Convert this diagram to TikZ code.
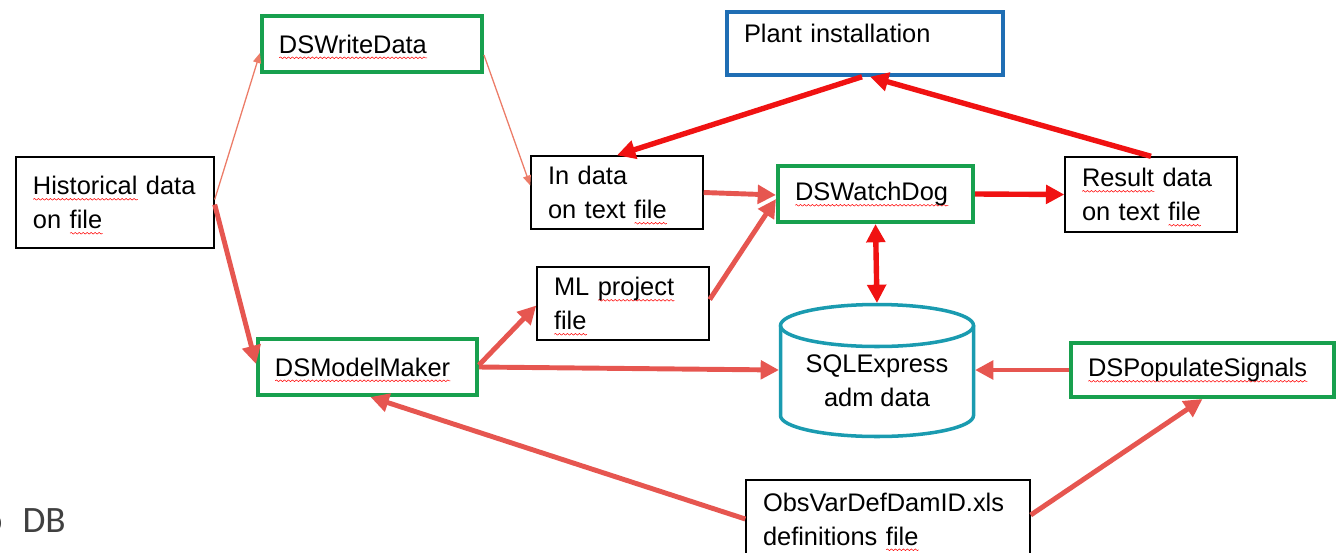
\documentclass[tikz,border=0pt]{standalone}
\usepackage{fontspec}
\setmainfont{Liberation Sans}
\newfontfamily\capfont{Carlito}
\usetikzlibrary{arrows.meta,calc,decorations.pathmorphing}

\definecolor{boxgreen}{RGB}{24,160,78}
\definecolor{boxblue}{RGB}{31,110,180}
\definecolor{dbteal}{RGB}{26,155,176}
\definecolor{flowred}{RGB}{240,18,18}
\definecolor{flowsalmon}{RGB}{230,86,80}
\definecolor{thinsalmon}{RGB}{236,124,104}
\definecolor{captiongray}{RGB}{64,64,64}

% red wavy underline under the flagged words
\newlength\spellw
\newcommand\spell[1]{\leavevmode\settowidth\spellw{#1}\rlap{\smash{\tikz[baseline=0pt,x=1pt,y=1pt]
  \draw[red,line width=0.45pt,decorate,decoration={snake,amplitude=0.7pt,segment length=3.4pt}] (0,-4) -- (\spellw,-4);}}#1}

\begin{document}
\begin{tikzpicture}[x=0.03cm,y=-0.03cm,
  font=\fontsize{21.7}{29}\selectfont,
  >={Triangle[length=0.55cm,width=0.55cm]},
  file/.style={draw=black,line width=1.2pt,align=left,inner xsep=0.51cm,inner ysep=0pt},
  prog/.style={file,draw=boxgreen,line width=3.4pt},
  flow/.style={draw=flowsalmon,line width=4.2pt,->},
  redflow/.style={draw=flowred,line width=4.6pt,->},
  thinflow/.style={draw=thinsalmon,line width=1.1pt,-{Triangle[length=0.3cm,width=0.24cm]}}]
\useasboundingbox (0,0) rectangle (1336,552);
\clip (0,0) rectangle (1336,552);

\node[file,text width=4.92cm,minimum height=2.73cm] (hist) at (115,202.5) {\spell{Historical}~data\\on~\spell{file}};
\node[prog,text width=5.58cm,minimum height=1.68cm] (wdata) at (372,44) {\spell{DSWriteData}};
\node[file,draw=boxblue,line width=3pt,text width=7.26cm,minimum height=1.89cm,text depth=17pt] (plant) at (865,43.5) {Plant~installation};
\node[file,text width=4.14cm,minimum height=2.19cm] (indat) at (617,192.5) {In~data\\on~text~\spell{file}};
\node[prog,text width=4.83cm,minimum height=1.68cm] (wdog) at (875.5,194) {\spell{DSWatchDog}};
\node[file,text width=4.14cm,minimum height=2.25cm] (res) at (1151,194.5) {\spell{Result}~data\\on~text~\spell{file}};
\node[file,text width=4.14cm,minimum height=2.19cm] (mlp) at (623,303.5) {ML~\spell{project}\\\spell{file}};
\node[align=center,inner sep=0pt] (db) at (877,381) {SQLExpress\\adm~data};
\node[prog,text width=5.55cm,minimum height=1.68cm] (mmk) at (367.5,367) {\spell{DSModelMaker}};
\node[prog,text width=6.87cm,minimum height=1.62cm] (pop) at (1202.5,370) {\spell{DSPopulateSignals}};
\node[file,text width=7.5cm,minimum height=2.34cm] (obs) at (888,519) {ObsVarDefDamID.xls\\definitions~\spell{file}};

\node[anchor=base east,inner sep=0pt,text=captiongray,font=\capfont\fontsize{31.8}{36}\selectfont] (odb) at (66,532) {o\hspace{10pt} DB};

% database drum round the db text
\draw[dbteal,line width=3pt] ($(db)+(0,-55.5)$) ellipse [x radius=96.5,y radius=21];
\draw[dbteal,line width=3pt] ($(db)+(-96.5,-55.5)$) -- ($(db)+(-96.5,34.5)$)
  arc[start angle=180,end angle=0,x radius=96.5,y radius=21] -- ($(db)+(96.5,-55.5)$);
\coordinate (dbtop) at ($(db)+(0,-78)$);
\coordinate (dbleft) at ($(db)+(-98,-11)$);
\coordinate (dbright) at ($(db)+(98,-11)$);

% program flow
\draw[thinflow] ($(hist.east)+(0,-3)$) -- ($(wdata.west)+(0,9)$);
\draw[thinflow] ($(wdata.east)+(0,11)$) -- ($(indat.west)+(0,-7)$);
\draw[flow] ($(hist.east)+(0,2)$) -- ($(mmk.west)+(0,-3)$);
\draw[redflow] ($(plant.south)+(-3,0)$) -- (indat.north);
\draw[redflow] (res.north) -- ($(plant.south)+(5,0)$);
\draw[flow] (indat.east) -- ($(wdog.west)+(0,1)$);
\draw[flow] ($(mlp.east)+(0,-4)$) -- ($(wdog.west)+(0,5)$);
\draw[redflow] (wdog.east) -- (res.west);
\draw[redflow,<->] (wdog.south) -- (dbtop);
\draw[flow] ($(mmk.east)+(0,-2)$) -- ($(mlp.west)+(0,2)$);
\draw[flow] (mmk.east) -- (dbleft);
\draw[flow] (pop.west) -- (dbright);
\draw[flow] (obs.west) -- ($(mmk.south)+(3,0)$);
\draw[flow] ($(obs.east)+(0,-4)$) -- (pop.south);
\end{tikzpicture}
\end{document}
